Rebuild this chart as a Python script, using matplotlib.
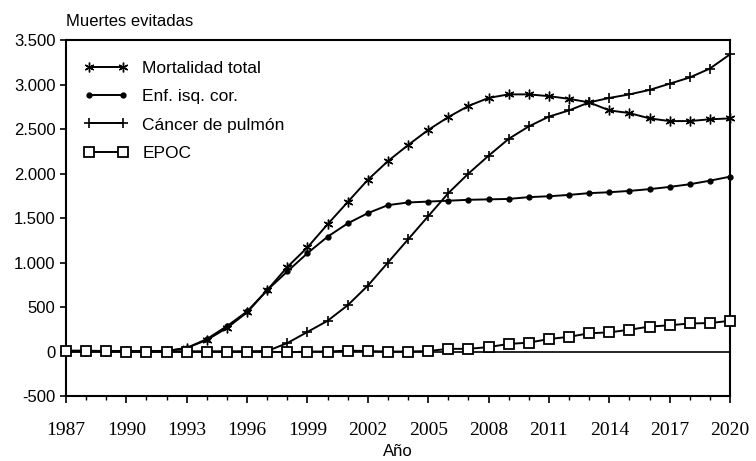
import numpy as np
import matplotlib
matplotlib.use("Agg")
import matplotlib.pyplot as plt
from matplotlib.ticker import FuncFormatter, MultipleLocator

plt.rcParams['font.family'] = ['Liberation Sans', 'DejaVu Sans']

# Years and series (muertes evitadas)
years = list(range(1987, 2021))
mortalidad_total = [5, 5, 5, 5, 5, 5, 40, 130, 265, 440, 690, 950, 1170, 1430, 1680,
                    1930, 2140, 2320, 2490, 2635, 2760, 2850, 2890, 2890, 2870, 2840,
                    2800, 2710, 2680, 2620, 2590, 2590, 2610, 2620]
enf_isq_cor = [5, 5, 5, 5, 5, 5, 40, 140, 285, 450, 690, 900, 1105, 1290, 1440,
               1555, 1645, 1675, 1685, 1695, 1705, 1710, 1715, 1735, 1745, 1760,
               1780, 1790, 1805, 1825, 1850, 1880, 1920, 1965]
cancer_pulmon = [0, 0, 0, 0, 0, 0, 0, 0, 0, 0, 5, 95, 220, 345, 520,
                 740, 1000, 1260, 1520, 1780, 2000, 2200, 2390, 2530, 2640, 2710,
                 2800, 2850, 2890, 2940, 3010, 3080, 3180, 3340]
epoc = [10, 10, 5, 0, 0, 0, 0, 0, 0, 0, 0, -10, 0, 0, 10,
        5, 0, 0, 5, 30, 30, 50, 85, 100, 140, 165,
        205, 215, 245, 280, 295, 315, 320, 345]

xtick_years = [1987, 1990, 1993, 1996, 1999, 2002, 2005, 2008, 2011, 2014, 2017, 2020]

fig = plt.figure(figsize=(7.56, 4.61), dpi=100)
ax = fig.add_axes([0.0873, 0.141, 0.8783, 0.772])

ax.axhline(0, color='black', lw=1.2, zorder=1)

ax.plot(years, mortalidad_total, color='black', lw=1.4, marker=(6, 2, 0),
        markersize=7, markeredgewidth=1.0, label='Mortalidad total', zorder=3, clip_on=False)
ax.plot(years, enf_isq_cor, color='black', lw=1.4, marker='o',
        markersize=3.5, label='Enf. isq. cor.', zorder=3, clip_on=False)
ax.plot(years, cancer_pulmon, color='black', lw=1.4, marker='+',
        markersize=7, markeredgewidth=1.2, label='Cáncer de pulmón', zorder=3, clip_on=False)
ax.plot(years, epoc, color='black', lw=1.4, marker='s', markerfacecolor='white',
        markersize=7, markeredgewidth=1.3, label='EPOC', zorder=4, clip_on=False)

ax.set_xlim(1987, 2020)
ax.set_ylim(-500, 3500)
ax.set_xticks(xtick_years)
ax.xaxis.set_minor_locator(MultipleLocator(1))
ax.yaxis.set_major_locator(MultipleLocator(500))
ax.yaxis.set_major_formatter(FuncFormatter(lambda v, p: f"{v:,.0f}".replace(",", ".")))

for s in ax.spines.values():
    s.set_linewidth(1.5)
ax.tick_params(axis='y', labelsize=12, direction='out', length=4, width=1.2)
ax.tick_params(axis='x', labelsize=14, direction='out', length=5, width=1.2, pad=14)
ax.tick_params(axis='x', which='minor', direction='out', length=3, width=1)
for lbl in ax.get_xticklabels():
    lbl.set_family(['Liberation Serif', 'DejaVu Serif'])

ax.text(0.0, 1.03, 'Muertes evitadas', transform=ax.transAxes,
        ha='left', va='bottom', fontsize=12)
ax.set_xlabel('Año', fontsize=12, labelpad=3)

ax.legend(loc='upper left', bbox_to_anchor=(0.0, 0.99), frameon=False, numpoints=2,
          fontsize=12.5, handlelength=2.6, labelspacing=0.75, borderaxespad=0.6)

fig.savefig('out.png', dpi=100)
